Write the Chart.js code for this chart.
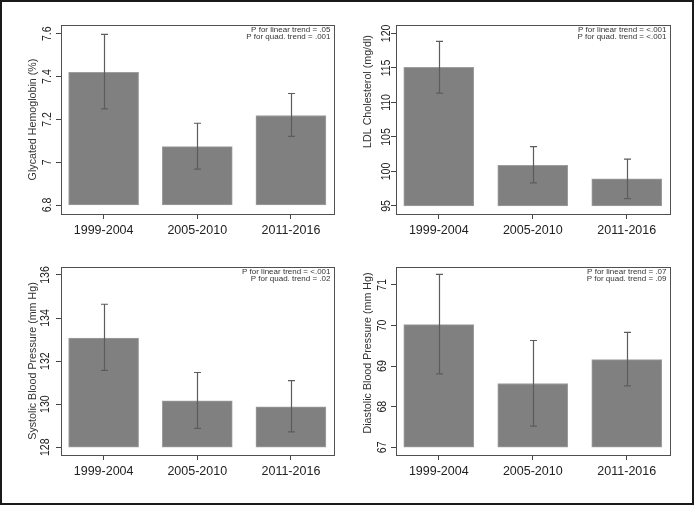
<!DOCTYPE html>
<html>
<head>
<meta charset="utf-8">
<script src="https://cdn.jsdelivr.net/npm/chart.js@4.4.1/dist/chart.umd.min.js"></script>
<style>
  body { margin: 0; background: #fff; }
  #wrap { position: relative; width: 695px; height: 506px; }
  #wrap canvas { position: absolute; }
  #frame { position: absolute; left: 0; top: 0; width: 694px; height: 505px; box-sizing: border-box; border: 2px solid #1a1a1a; pointer-events: none; }
</style>
</head>
<body>
<div id="wrap">
  <canvas id="c1" width="347" height="253" style="left:0px;top:0px"></canvas>
  <canvas id="c2" width="347" height="253" style="left:347px;top:0px"></canvas>
  <canvas id="c3" width="347" height="253" style="left:0px;top:253px"></canvas>
  <canvas id="c4" width="347" height="253" style="left:347px;top:253px"></canvas>
  <div id="frame"></div>
</div>
<script>
'use strict';

// survey periods
let periods = ['1999-2004', '2005-2010', '2011-2016'];

// glycated hemoglobin (%)
let hba1cMean = [7.42, 7.073, 7.218];
let hba1cLow = [7.249, 6.968, 7.121];
let hba1cHigh = [7.597, 7.182, 7.321];
let hba1cTicks = [6.8, 7, 7.2, 7.4, 7.6];

// LDL cholesterol (mg/dl)
let ldlMean = [115.07, 100.9, 98.92];
let ldlLow = [111.36, 98.34, 96.06];
let ldlHigh = [118.85, 103.6, 101.78];
let ldlTicks = [95, 100, 105, 110, 115, 120];

// systolic BP (mm Hg)
let sbpMean = [133.07, 130.15, 129.88];
let sbpLow = [131.57, 128.88, 128.71];
let sbpHigh = [134.64, 131.47, 131.09];
let sbpTicks = [128, 130, 132, 134, 136];

// diastolic BP (mm Hg)
let dbpMean = [70.02, 68.57, 69.16];
let dbpLow = [68.81, 67.52, 68.51];
let dbpHigh = [71.26, 69.63, 69.83];
let dbpTicks = [67, 68, 69, 70, 71];

let yTitles = ['Glycated Hemoglobin (%)', 'LDL Cholesterol (mg/dl)', 'Systolic Blood Pressure (mm Hg)', 'Diastolic Blood Pressure (mm Hg)'];
let trendLinear = ['P for linear trend = .05', 'P for linear trend = <.001', 'P for linear trend = <.001', 'P for linear trend = .07'];
let trendQuad = ['P for quad. trend = .001', 'P for quad. trend = <.001', 'P for quad. trend = .02', 'P for quad. trend = .09'];

Chart.defaults.font.family = '"Liberation Sans", Arial, sans-serif';

const FONT = '"Liberation Sans", Arial, sans-serif';

// layout of each panel (local canvas coords)
let panels = [
  { id: 'c1', mean: hba1cMean, low: hba1cLow, high: hba1cHigh, ticks: hba1cTicks, ymin: 6.758, ymax: 7.641,
    area: [61, 25, 334, 214], labGap: 13.5, titleShift: 0 },
  { id: 'c2', mean: ldlMean, low: ldlLow, high: ldlHigh, ticks: ldlTicks, ymin: 93.84, ymax: 121.22,
    area: [49, 25, 323, 214], labGap: 9.5, titleShift: -28 },
  { id: 'c3', mean: sbpMean, low: sbpLow, high: sbpHigh, ticks: sbpTicks, ymin: 127.64, ymax: 136.37,
    area: [61, 14, 334, 202], labGap: 15, titleShift: 0 },
  { id: 'c4', mean: dbpMean, low: dbpLow, high: dbpHigh, ticks: dbpTicks, ymin: 66.81, ymax: 71.44,
    area: [49, 14, 323, 202], labGap: 13, titleShift: -8 }
];

function make_panel(p, n) {
  let canvas = document.getElementById(p.id);
  let W = canvas.width, H = canvas.height;
  let base = p.ticks[0];
  let data = p.mean.map((v, i) => ({ x: i + 1, y: [base, v] }));

  let extras = {
    id: 'extras' + n,
    afterDatasetsDraw(chart) {
      let ctx = chart.ctx;
      let a = chart.chartArea;
      let xs = chart.scales.x, ys = chart.scales.y;
      ctx.save();

      // error bars
      ctx.strokeStyle = '#5c5c5c';
      ctx.lineWidth = 1.2;
      for (let i = 0; i < p.mean.length; i++) {
        let x = Math.round(xs.getPixelForValue(i + 1)) + 0.5;
        let y1 = ys.getPixelForValue(p.low[i]);
        let y2 = ys.getPixelForValue(p.high[i]);
        ctx.beginPath();
        ctx.moveTo(x, y1); ctx.lineTo(x, y2);
        ctx.moveTo(x - 3.5, y1); ctx.lineTo(x + 3.5, y1);
        ctx.moveTo(x - 3.5, y2); ctx.lineTo(x + 3.5, y2);
        ctx.stroke();
      }

      // plot frame
      ctx.strokeStyle = '#505050';
      ctx.lineWidth = 1;
      ctx.strokeRect(a.left + 0.5, a.top + 0.5, a.right - a.left, a.bottom - a.top);

      // y tick labels, rotated like the original
      ctx.fillStyle = '#222';
      ctx.font = '12px ' + FONT;
      ctx.textAlign = 'center';
      ctx.textBaseline = 'middle';
      p.ticks.forEach(v => {
        ctx.save();
        ctx.translate(a.left - p.labGap, ys.getPixelForValue(v));
        ctx.rotate(-Math.PI / 2);
        ctx.scale(0.88, 1);
        ctx.fillText(String(v), 0, 0);
        ctx.restore();
      });

      // y axis title
      ctx.save();
      ctx.font = '10.7px ' + FONT;
      ctx.fillStyle = '#333';
      ctx.translate(a.left - 27.5, (a.top + a.bottom) / 2 + p.titleShift);
      ctx.rotate(-Math.PI / 2);
      ctx.fillText(yTitles[n], 0, 0);
      ctx.restore();

      // trend p-values
      ctx.save();
      ctx.font = '8px ' + FONT;
      ctx.fillStyle = '#333';
      ctx.textAlign = 'right';
      ctx.translate(a.right - 3.5, a.top + 5);
      ctx.scale(1, 0.8);
      ctx.fillText(trendLinear[n], 0, 0);
      ctx.fillText(trendQuad[n], 0, 7 / 0.8);
      ctx.restore();

      ctx.restore();
    }
  };

  return new Chart(canvas, {
    type: 'bar',
    data: {
      datasets: [{
        data: data,
        backgroundColor: '#808080',
        borderColor: '#9e9e9e',
        borderWidth: 1,
        borderSkipped: false,
        barThickness: 70
      }]
    },
    options: {
      responsive: false,
      animation: false,
      devicePixelRatio: 1,
      layout: { padding: { left: 0, top: p.area[1], right: W - p.area[2], bottom: H - p.area[3] - 30 } },
      plugins: { legend: { display: false }, tooltip: { enabled: false } },
      scales: {
        x: {
          type: 'linear',
          offset: false,
          min: 0.545,
          max: 3.46,
          afterBuildTicks: (s) => { s.ticks = periods.map((c, i) => ({ value: i + 1 })); },
          afterFit: (s) => { s.height = 30; },
          ticks: { callback: (v) => periods[v - 1], padding: 4, color: '#222', font: { size: 12.5 }, maxRotation: 0 },
          grid: { offset: false, drawOnChartArea: false, drawTicks: true, tickLength: 5, color: '#444' },
          border: { display: false }
        },
        y: {
          min: p.ymin,
          max: p.ymax,
          afterBuildTicks: (s) => { s.ticks = p.ticks.map(v => ({ value: v })); },
          afterFit: (s) => { s.width = p.area[0]; },
          ticks: { display: false },
          grid: { drawOnChartArea: false, drawTicks: true, tickLength: 5, color: '#444' },
          border: { display: false }
        }
      }
    },
    plugins: [extras]
  });
}

panels.forEach((p, n) => make_panel(p, n));
</script>
</body>
</html>
